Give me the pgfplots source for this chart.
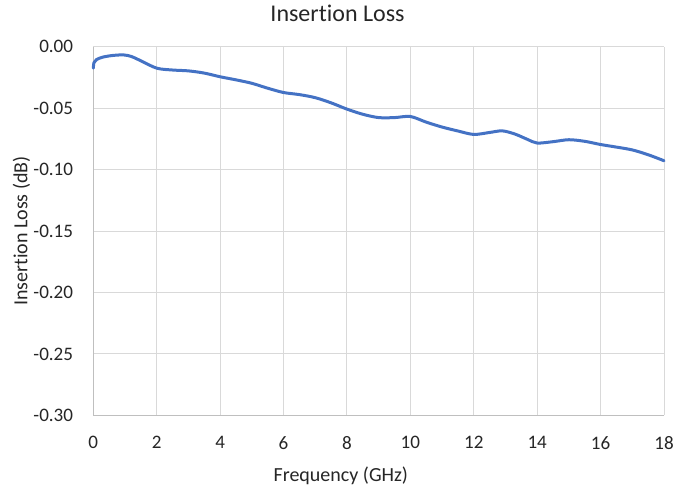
\documentclass[border=0pt]{standalone}
\usepackage{pgfplots}
\pgfplotsset{compat=1.18}
\usepackage{fontspec}
\setmainfont{Carlito}[Ligatures=NoCommon, Contextuals=NoAlternate]
\usetikzlibrary{calc}
\definecolor{exblue}{HTML}{4472C4}
\definecolor{gridgray}{HTML}{D9D9D9}
\definecolor{axgray}{HTML}{BFBFBF}
\begin{document}
\begin{tikzpicture}
\begin{axis}[
  scale only axis,
  width=428pt, height=276.6pt,
  xmin=0, xmax=18, ymin=-0.30, ymax=0,
  xtick={0,2,...,18},
  ytick={-0.30,-0.25,-0.20,-0.15,-0.10,-0.05,0},
  yticklabels={-0.30,-0.25,-0.20,-0.15,-0.10,-0.05,0.00},
  major tick length=0pt,
  grid=major,
  major grid style={draw=gridgray, line width=0.75pt},
  axis x line*=bottom, axis y line*=left,
  axis line style={draw=axgray, line width=0.75pt, -},
  /pgf/number format/assume math mode=true,
  tick label style={font=\fontsize{14.3pt}{16pt}\selectfont, text=black!85},
  xticklabel style={inner sep=0pt, anchor=north, yshift=-15.4pt},
  yticklabel style={inner sep=0pt, anchor=east, xshift=-15pt},
  title={Insertion Loss},
  every axis title/.style={at={(axis description cs:0.4279,1.0678)}, anchor=base, inner sep=0pt, font=\fontsize{18pt}{21pt}\selectfont, text=black!85},
  xlabel={Frequency (GHz)},
  every axis x label/.style={at={(axis description cs:0.4337,-0.1795)}, anchor=base, inner sep=0pt, font=\fontsize{15pt}{18pt}\selectfont, text=black!85},
  ylabel={Insertion Loss (dB)},
  every axis y label/.style={at={(axis description cs:-0.1156,0.5)}, anchor=base, rotate=90, inner sep=0pt, font=\fontsize{15pt}{18pt}\selectfont, text=black!85},
  clip=false,
]
\addplot[exblue, line width=2.25pt, smooth, line join=round, line cap=round] coordinates {
(0,-0.0175) (0.02,-0.0130) (0.1,-0.0105) (0.3,-0.0085) (0.6,-0.0072)
(0.95,-0.0067) (1.2,-0.0080) (1.5,-0.0115) (2.0,-0.0175) (2.5,-0.0190)
(3.0,-0.0197) (3.5,-0.0215) (4.0,-0.0245) (4.5,-0.0270) (5.0,-0.0298)
(5.5,-0.0338) (6.0,-0.0373) (6.5,-0.0390) (7.0,-0.0415) (7.5,-0.0457)
(8.0,-0.0508) (8.5,-0.0550) (9.0,-0.0577) (9.5,-0.0577) (10.0,-0.0568)
(10.5,-0.0614) (11.0,-0.0654) (11.5,-0.0686) (12.0,-0.0714) (12.5,-0.0698)
(12.9,-0.0685) (13.3,-0.0711) (13.7,-0.0755) (14.0,-0.0784) (14.5,-0.0773)
(15.0,-0.0757) (15.5,-0.0770) (16.0,-0.0796) (16.5,-0.0817) (17.0,-0.0840)
(17.5,-0.0879) (18.0,-0.0928)
};
\end{axis}
\pgfresetboundingbox
\path ($(current axis.south west)+(-70pt,-54.4pt)$) rectangle ($(current axis.north east)+(8.25pt,35pt)$);
\end{tikzpicture}
\end{document}
